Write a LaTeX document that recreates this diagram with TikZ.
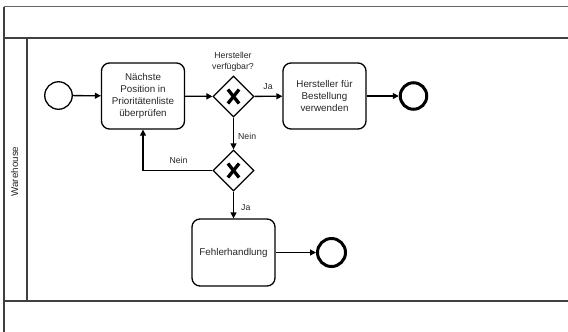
\documentclass[tikz,border=0pt]{standalone}
\usepackage{fontspec}
\setmainfont{Liberation Sans}
\usetikzlibrary{shapes.geometric,arrows.meta}
\tikzset{
  flow/.style={line width=1.3bp,-{Triangle[length=6bp,width=6bp]}},
  task/.style={draw,line width=1.3bp,rounded corners=8bp,minimum width=83bp,minimum height=66bp,inner sep=0pt,align=center,font=\fontsize{9.8bp}{12bp}\selectfont,text=black!85},
  gateway/.style={draw,shape=diamond,line width=1.3bp,minimum width=41bp,minimum height=41bp,inner sep=0pt,aspect=1,fill=white,
    path picture={\draw[line width=3.3bp] ([xshift=-5.6bp,yshift=-7bp]path picture bounding box.center) -- ([xshift=5.6bp,yshift=7bp]path picture bounding box.center);
      \draw[line width=3.3bp] ([xshift=-5.6bp,yshift=7bp]path picture bounding box.center) -- ([xshift=5.6bp,yshift=-7bp]path picture bounding box.center);}},
  startev/.style={draw,circle,line width=1.3bp,minimum size=27.5bp,inner sep=0pt},
  endev/.style={draw,circle,line width=3bp,minimum size=26.5bp,inner sep=0pt},
  lbl/.style={font=\fontsize{8.7bp}{11bp}\selectfont,text=black!85,inner sep=0pt,align=center},
  pool/.style={line width=1.2bp,draw=black!75}
}
\begin{document}
\begin{tikzpicture}[x=1bp,y=-1bp]
\useasboundingbox (0,0) rectangle (568,331);
% pool / lanes
\coordinate (tl) at (4,6.5);
\coordinate (tr) at (569,6.5);
\coordinate (ml) at (4,38);
\coordinate (mr) at (569,38);
\coordinate (bl) at (4,301);
\coordinate (br) at (569,301);
\coordinate (ll) at (4,332);
\coordinate (sepT) at (27,38);
\coordinate (sepB) at (27,301);
\draw[pool,draw=black!60] (tl) -- (tr);
\draw[pool] (ml) -- (mr);
\draw[pool] (bl) -- (br);
\draw[pool] (tl) -- (ll);
\draw[pool] (sepT) -- (sepB);
\node[rotate=90,font=\fontsize{9.8bp}{12bp}\selectfont,text=black!85,inner sep=0pt] (lane) at (14.5,171.5) {Warehouse};
% nodes
\node[startev] (start) at (58.5,95.5) {};
\node[task] (t1) at (143,96) {Nächste\\Position in\\Prioritätenliste\\überprüfen};
\node[gateway] (g1) at (233.5,96.5) {};
\node[task] (t2) at (324.5,96) {Hersteller für\\Bestellung\\verwenden};
\node[endev] (e1) at (413.5,96) {};
\node[gateway] (g2) at (233.5,170.5) {};
\node[task,minimum height=67bp] (t3) at (233.5,252.5) {Fehlerhandlung};
\node[endev,minimum size=28bp] (e2) at (331.5,252.5) {};
% connectors
\draw[flow] (start) -- (t1);
\draw[flow] (t1) -- (g1);
\draw[flow] (g1) -- (t2);
\draw[flow] (t2) -- (e1);
\draw[flow] (g1) -- (g2);
\draw[flow] (g2.west) -| (t1.south);
\draw[flow] (g2) -- (t3);
\draw[flow] (t3) -- (e2);
% labels
\node[lbl] (q1) at (233,61.5) {Hersteller\\verfügbar?};
\node[lbl] (ja1) at (268,87) {Ja};
\node[lbl,anchor=west] (nein1) at (238,136) {Nein};
\node[lbl] (nein2) at (178.5,160) {Nein};
\node[lbl,anchor=west] (ja2) at (241,208) {Ja};
\end{tikzpicture}
\end{document}
